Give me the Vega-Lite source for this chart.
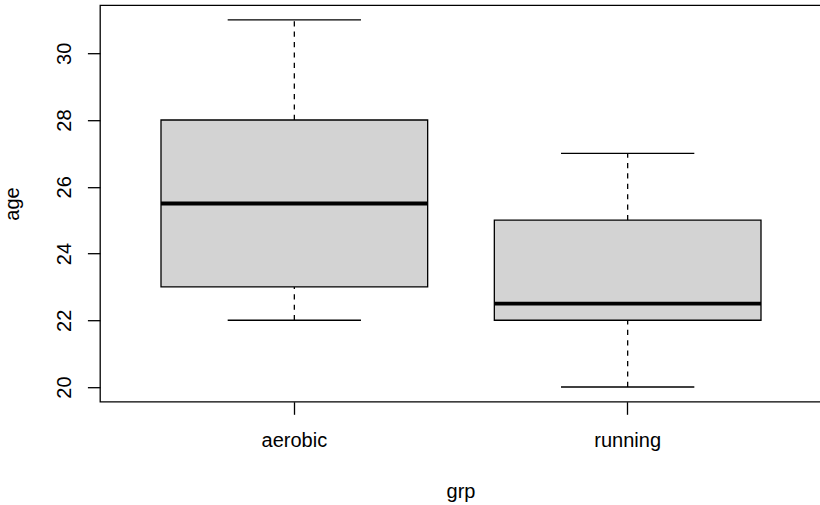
{
  "$schema": "https://vega.github.io/schema/vega-lite/v6.json",
  "width": 722,
  "height": 396.5,
  "autosize": {"type": "none"},
  "padding": {"left": 100, "top": 5.2, "right": 0, "bottom": 103.3},
  "background": "white",
  "config": {
    "view": {"stroke": "#000", "strokeWidth": 1.3},
    "font": "Liberation Sans",
    "axisX": {
      "domain": false,
      "grid": false,
      "tickColor": "#000",
      "tickWidth": 1.3,
      "tickSize": 12.6,
      "labelAngle": 0,
      "labelFont": "Liberation Sans",
      "labelFontSize": 20,
      "labelColor": "#000",
      "labelPadding": 32.4,
      "labelBaseline": "alphabetic",
      "titleFont": "Liberation Sans",
      "titleFontSize": 20,
      "titleFontWeight": "normal",
      "titleColor": "#000",
      "titleX": 360.5,
      "titleY": 95.3,
      "titleAlign": "center",
      "titleBaseline": "alphabetic"
    },
    "axisY": {
      "domain": false,
      "grid": false,
      "tickColor": "#000",
      "tickWidth": 1.3,
      "tickSize": 12.6,
      "labelAngle": 270,
      "labelAlign": "center",
      "labelBaseline": "alphabetic",
      "labelPadding": 16.7,
      "labelFont": "Liberation Sans",
      "labelFontSize": 20,
      "labelColor": "#000",
      "titleFont": "Liberation Sans",
      "titleAngle": 270,
      "titleX": -81.3,
      "titleY": 198.25,
      "titleAlign": "center",
      "titleBaseline": "alphabetic",
      "titleFontSize": 20,
      "titleFontWeight": "normal",
      "titleColor": "#000"
    }
  },
  "data": {
    "values": [
      {"grp": "aerobic", "min": 22, "q1": 23, "median": 25.5, "q3": 28, "max": 31},
      {"grp": "running", "min": 20, "q1": 22, "median": 22.5, "q3": 25, "max": 27}
    ]
  },
  "encoding": {
    "x": {
      "field": "grp",
      "type": "nominal",
      "scale": {"type": "band", "domain": ["aerobic", "running"], "paddingInner": 0.2, "paddingOuter": 0.183},
      "axis": {"title": "grp"}
    }
  },
  "layer": [
    {
      "mark": {"type": "rule", "color": "#000", "strokeWidth": 1.3, "strokeDash": [5.2, 5.2]},
      "encoding": {
        "y": {"field": "q3", "type": "quantitative", "title": "age", "scale": {"domain": [19.56, 31.44], "nice": false, "zero": false}, "axis": {"title": "age", "values": [20, 22, 24, 26, 28, 30]}},
        "y2": {"field": "max"}
      }
    },
    {
      "mark": {"type": "rule", "color": "#000", "strokeWidth": 1.3, "strokeDash": [5.2, 5.2]},
      "encoding": {
        "y": {"field": "min", "type": "quantitative", "title": "age", "scale": {"domain": [19.56, 31.44], "nice": false, "zero": false}, "axis": {"title": "age", "values": [20, 22, 24, 26, 28, 30]}},
        "y2": {"field": "q1"}
      }
    },
    {
      "mark": {"type": "tick", "color": "#000", "size": 133.3, "thickness": 1.3, "opacity": 1},
      "encoding": {
        "y": {"field": "max", "type": "quantitative", "title": "age", "scale": {"domain": [19.56, 31.44], "nice": false, "zero": false}, "axis": {"title": "age", "values": [20, 22, 24, 26, 28, 30]}}
      }
    },
    {
      "mark": {"type": "tick", "color": "#000", "size": 133.3, "thickness": 1.3, "opacity": 1},
      "encoding": {
        "y": {"field": "min", "type": "quantitative", "title": "age", "scale": {"domain": [19.56, 31.44], "nice": false, "zero": false}, "axis": {"title": "age", "values": [20, 22, 24, 26, 28, 30]}}
      }
    },
    {
      "mark": {"type": "bar", "fill": "#d3d3d3", "stroke": "#000", "strokeWidth": 1.3, "opacity": 1},
      "encoding": {
        "y": {"field": "q1", "type": "quantitative", "title": "age", "scale": {"domain": [19.56, 31.44], "nice": false, "zero": false}, "axis": {"title": "age", "values": [20, 22, 24, 26, 28, 30]}},
        "y2": {"field": "q3"}
      }
    },
    {
      "mark": {"type": "tick", "color": "#000", "size": 266.7, "thickness": 3.9, "opacity": 1},
      "encoding": {
        "y": {"field": "median", "type": "quantitative", "title": "age", "scale": {"domain": [19.56, 31.44], "nice": false, "zero": false}, "axis": {"title": "age", "values": [20, 22, 24, 26, 28, 30]}}
      }
    }
  ]
}
